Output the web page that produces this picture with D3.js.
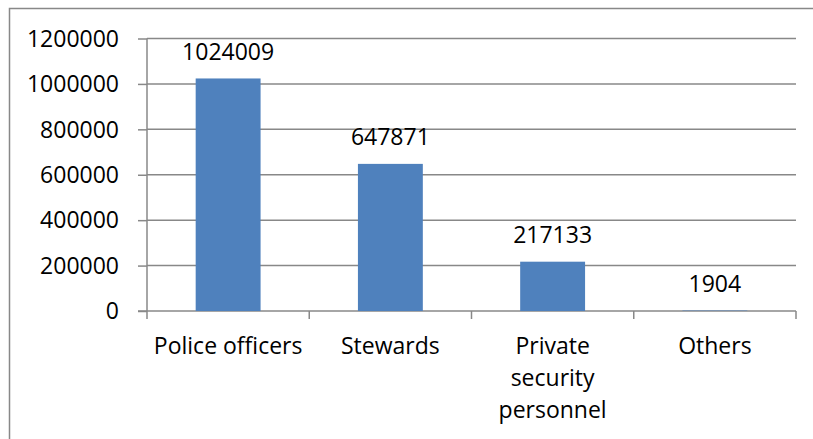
<!DOCTYPE html>
<html><head><meta charset="utf-8">
<script src="https://cdn.jsdelivr.net/npm/d3@7"></script>
<style>
html,body{margin:0;padding:0;background:#fff;}
svg{display:block;font-family:"Open Sans",sans-serif;}
</style></head>
<body><svg id="c" width="813" height="439"></svg>
<script>
const categories = [["Police officers"], ["Stewards"], ["Private", "security", "personnel"], ["Others"]];
const values = [1024009, 647871, 217133, 1904];
const yTicks = [0, 200000, 400000, 600000, 800000, 1000000, 1200000];

(function () {
const svg = d3.select("#c");
const pl = 147, pr = 796, pt = 38.5, pb = 311;
const grid = "#888888";

svg.append("rect").attr("x", 9.5).attr("y", 8.5).attr("width", 820).attr("height", 440)
  .attr("fill", "#fff").attr("stroke", grid).attr("stroke-width", 1.5);

const x = d3.scaleBand().domain(d3.range(values.length)).range([pl, pr]).paddingInner(0).paddingOuter(0);
const y = d3.scaleLinear().domain([0, 1200000]).range([pb, pt]);

// gridlines
svg.append("g").selectAll("line").data(yTicks.slice(1)).join("line")
  .attr("x1", pl).attr("x2", pr).attr("y1", d => y(d)).attr("y2", d => y(d))
  .attr("stroke", grid).attr("stroke-width", 1.5);

// y axis
const yAxis = d3.axisLeft(y).tickValues(yTicks).tickSize(9).tickPadding(19).tickFormat(d3.format("d"));
const ga = svg.append("g").attr("transform", `translate(${pl},0)`).call(yAxis);
ga.select(".domain").attr("stroke", grid).attr("stroke-width", 1.5).attr("fill", "none").attr("d", `M0,${pt}V${pb + 8}`);
ga.selectAll(".tick line").attr("stroke", grid).attr("stroke-width", 1.5);
ga.selectAll(".tick text").attr("font-family", "Open Sans").attr("font-size", 23).attr("fill", "#000").attr("dy", "0.34em");

// x axis
svg.append("line").attr("x1", pl - 9).attr("x2", pr).attr("y1", pb).attr("y2", pb)
  .attr("stroke", grid).attr("stroke-width", 1.5);
const bounds = d3.range(values.length + 1).map(i => i < values.length ? x(i) : x(values.length - 1) + x.bandwidth());
svg.append("g").selectAll("line").data(bounds.slice(1)).join("line")
  .attr("x1", d => d).attr("x2", d => d).attr("y1", pb).attr("y2", pb + 8)
  .attr("stroke", grid).attr("stroke-width", 1.5);

// bars
const bw = x.bandwidth() * 0.4;
svg.append("g").selectAll("rect").data(values).join("rect")
  .attr("x", (d, i) => x(i) + x.bandwidth() / 2 - bw / 2)
  .attr("width", bw)
  .attr("y", d => y(d))
  .attr("height", d => pb - y(d))
  .attr("fill", "#4F81BD");

// value labels
svg.append("g").selectAll("text").data(values).join("text")
  .attr("x", (d, i) => x(i) + x.bandwidth() / 2)
  .attr("y", d => y(d) - 18.5)
  .attr("text-anchor", "middle").attr("font-size", 23).attr("fill", "#000")
  .text(d => d);

// category labels
const cg = svg.append("g").selectAll("text").data(categories).join("text")
  .attr("text-anchor", "middle").attr("font-size", 23).attr("fill", "#000")
  .attr("transform", (d, i) => `translate(${x(i) + x.bandwidth() / 2},354)`);
cg.selectAll("tspan").data(d => d).join("tspan")
  .attr("x", 0).attr("y", (d, j) => j * 32).text(d => d);
})();
</script>
</body></html>
